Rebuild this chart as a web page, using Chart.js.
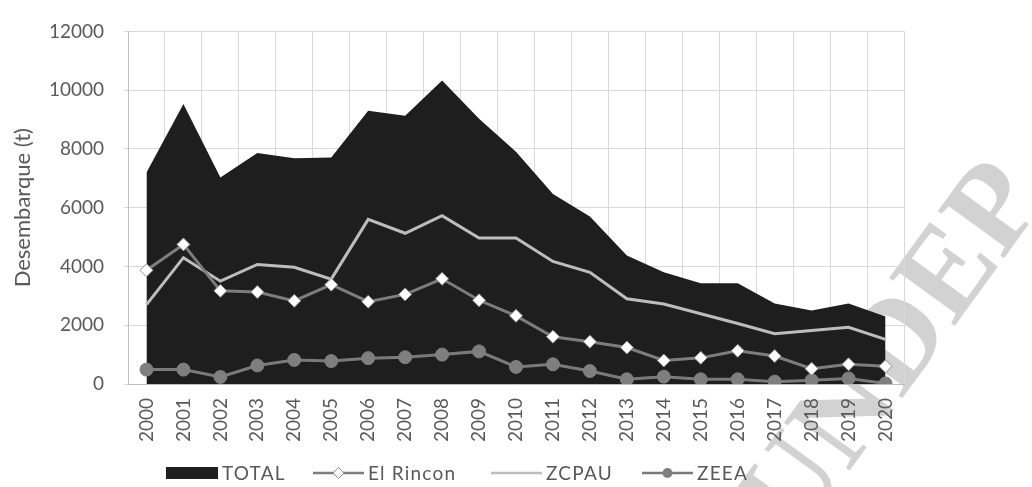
<!DOCTYPE html>
<html><head><meta charset="utf-8">
<script src="https://cdn.jsdelivr.net/npm/chart.js@4.4.0/dist/chart.umd.min.js"></script>
<style>
html,body{margin:0;padding:0;background:#fff;width:1032px;height:487px;overflow:hidden;}
#wrap{position:relative;width:1032px;height:487px;}
#wm{position:absolute;left:888px;top:348px;transform:translate(-50%,-50%) rotate(-54deg);font-family:"Liberation Serif";font-weight:bold;font-size:124px;color:#d2d2d2;white-space:nowrap;line-height:1;z-index:0;}
canvas{position:absolute;left:0;top:0;z-index:1;}
#legend{position:absolute;left:0;top:463px;width:1032px;height:20px;z-index:2;font-family:Lato;font-size:19px;letter-spacing:1.2px;color:#595959;line-height:20px;}
.item{position:absolute;top:0;display:flex;align-items:center;height:20px;white-space:nowrap;}
.item svg{margin-right:4px;}
</style></head>
<body>
<div id="wrap">
<div id="wm">UNDEP</div>
<canvas id="c" width="1032" height="487"></canvas>
<div id="legend"></div>
</div>
<script>
const years = ['2000','2001','2002','2003','2004','2005','2006','2007','2008','2009','2010','2011','2012','2013','2014','2015','2016','2017','2018','2019','2020'];
const seriesNames = ['TOTAL','El Rincon','ZCPAU','ZEEA'];
const total = [7200, 9530, 7030, 7860, 7680, 7710, 9300, 9130, 10330, 9030, 7900, 6470, 5700, 4370, 3800, 3430, 3430, 2740, 2500, 2740, 2300];
const elRincon = [3870, 4750, 3170, 3130, 2830, 3380, 2800, 3050, 3580, 2850, 2320, 1610, 1440, 1240, 800, 890, 1130, 950, 520, 670, 600];
const zcpau = [2700, 4300, 3500, 4070, 3970, 3570, 5600, 5130, 5730, 4970, 4970, 4170, 3800, 2900, 2720, 2390, 2060, 1710, 1820, 1930, 1520];
const zeea = [490, 490, 240, 630, 820, 780, 880, 910, 1000, 1110, 580, 670, 440, 160, 250, 160, 160, 80, 130, 190, 20];
const yMin = 0, yMax = 12000, yStep = 2000;
const yTitle = 'Desembarque (t)';

const FONT = 'Lato';
const TXT = '#5a5a5a';
const chart = new Chart(document.getElementById('c'), {
  type: 'line',
  data: {
    labels: years,
    datasets: [
      {label: seriesNames[0], data: total, fill: 'origin', backgroundColor: '#1e1e1e', borderColor: '#1e1e1e', borderWidth: 0, pointRadius: 0, tension: 0, order: 10},
      {label: seriesNames[1], data: elRincon, fill: false, borderColor: '#7d7d7d', borderWidth: 3, pointStyle: 'rectRot', pointRadius: 6.5, pointBackgroundColor: '#ffffff', pointBorderColor: '#8a8a8a', pointBorderWidth: 1, tension: 0, order: 1},
      {label: seriesNames[2], data: zcpau, fill: false, borderColor: '#bdbdbd', borderWidth: 3, pointRadius: 0, tension: 0, order: 3},
      {label: seriesNames[3], data: zeea, fill: false, borderColor: '#7a7a7a', borderWidth: 3, pointStyle: 'circle', pointRadius: 6.5, pointBackgroundColor: '#7f7f7f', pointBorderColor: '#7f7f7f', pointBorderWidth: 1, tension: 0, order: 2}
    ]
  },
  options: {
    responsive: false, animation: false, devicePixelRatio: 1,
    layout: {padding: {left: 10, right: 128, top: 24, bottom: 0}},
    plugins: {legend: {display: false}, tooltip: {enabled: false}},
    scales: {
      x: {
        offset: true,
        grid: {offset: true, color: '#d9d9d9', drawTicks: false},
        border: {color: '#bfbfbf'},
        ticks: {autoSkip: false, maxRotation: 90, minRotation: 90, padding: 14, color: TXT, font: {family: FONT, size: 19}},
        afterFit: s => { s.height = 103; }
      },
      y: {
        min: yMin, max: yMax,
        grid: {color: '#d9d9d9', tickLength: 4},
        border: {color: '#bfbfbf'},
        ticks: {stepSize: yStep, padding: 20, color: TXT, font: {family: FONT, size: 19}, callback: v => String(v)},
        title: {display: true, text: yTitle, color: TXT, font: {family: FONT, size: 22}, padding: 0},
        afterFit: s => { s.width = 118; }
      }
    }
  }
});

// legend built from the datasets
const legendX = [166, 313, 491, 642];
const lg = document.getElementById('legend');
chart.data.datasets.forEach((ds, i) => {
  const it = document.createElement('div'); it.className = 'item';
  it.style.left = legendX[i] + 'px';
  let svg;
  if (ds.fill === 'origin') {
    svg = `<svg width="52" height="12"><rect x="0" y="0" width="52" height="12" fill="${ds.backgroundColor}"/></svg>`;
  } else {
    let mk = '';
    if (ds.pointStyle === 'rectRot') mk = `<polygon points="25.5,0.5 31,6 25.5,11.5 20,6" fill="${ds.pointBackgroundColor}" stroke="${ds.pointBorderColor}" stroke-width="1"/>`;
    else if (ds.pointStyle === 'circle' && ds.pointRadius > 0) mk = `<circle cx="25.5" cy="6" r="5" fill="${ds.pointBackgroundColor}"/>`;
    svg = `<svg width="51" height="12"><line x1="0" y1="6" x2="51" y2="6" stroke="${ds.borderColor}" stroke-width="2.5"/>${mk}</svg>`;
  }
  it.innerHTML = svg + `<span>${ds.label}</span>`;
  lg.appendChild(it);
});
</script>
</body></html>
